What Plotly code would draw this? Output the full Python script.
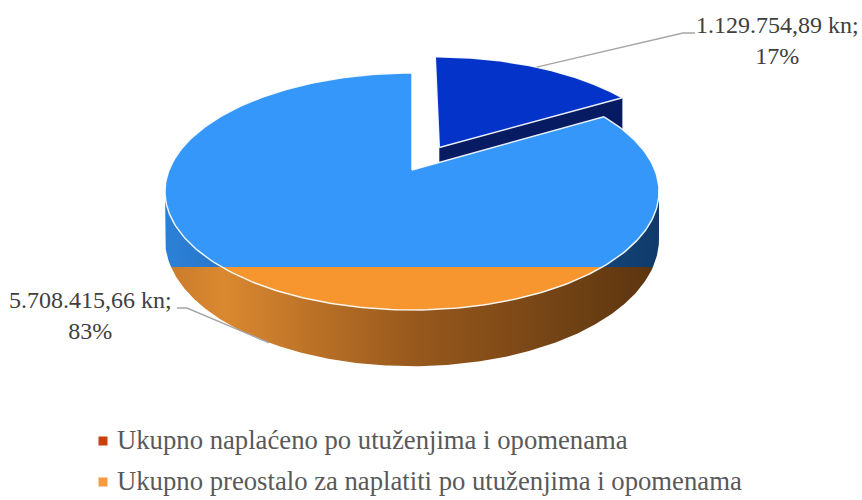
import numpy as np
import plotly.graph_objects as go

# ---------------- data ----------------
categories = ["Ukupno naplaćeno po utuženjima i opomenama",
              "Ukupno preostalo za naplatiti po utuženjima i opomenama"]
values = [1129754.89, 5708415.66]
explode = [0.235, 0.0]

# ---------------- style ----------------
top_colors = ["#0433C9", "#3497F9"]          # upper (series) colour of top face
side_scales = [[[0, "#071B62"], [1, "#071B62"]],
               [[0, "#2B80D6"], [0.35, "#2266B3"], [1, "#0F3B6A"]]]
low_top_colors = ["#C8400C", "#F7962F"]      # colour below the split line
low_side_scales = [[[0, "#B0380A"], [1, "#4A1804"]],
                   [[0, "#C97A2C"], [0.12, "#DA8830"], [0.5, "#98591D"], [1, "#5A3410"]]]
legend_colors = ["#C8400C", "#F79A40"]
W, H = 862, 500
CX, CY = 412.0, 170.0
A, B, K = 242.9, 114.6, 0.1814
DEPTH = 46.0
SPLIT_Y = 267.0
LABEL_FONT = dict(family="Liberation Serif, Times New Roman, serif", size=24, color="#404040")
LEG_FONT = dict(family="Liberation Serif, Times New Roman, serif", size=26.7, color="#595959")


def proj(u, v, z=0.0):
    den = 1.0 + K * v
    return CX + A * u / den, CY - B * v / den + z * DEPTH / den


def clip(pts, above):
    out = []
    n = len(pts)
    if n == 0:
        return out
    def inside(p):
        return p[1] <= SPLIT_Y if above else p[1] >= SPLIT_Y
    for i in range(n):
        cur, prev = pts[i], pts[i - 1]
        ci, pi = inside(cur), inside(prev)
        if ci != pi:
            t = (SPLIT_Y - prev[1]) / (cur[1] - prev[1])
            out.append((prev[0] + t * (cur[0] - prev[0]), SPLIT_Y))
        if ci:
            out.append(cur)
    return out


fig = go.Figure()


def add_poly(pts, color=None, scale=None, xr=None):
    if len(pts) < 3:
        return
    xs = [p[0] for p in pts] + [pts[0][0]]
    ys = [p[1] for p in pts] + [pts[0][1]]
    kw = dict(x=xs, y=ys, mode="lines", fill="toself", line=dict(width=0),
              hoverinfo="skip", showlegend=False)
    if scale is not None:
        kw["fillgradient"] = dict(type="horizontal", colorscale=scale,
                                  start=xr[0], stop=xr[1])
        kw["fillcolor"] = scale[0][1]
    else:
        kw["fillcolor"] = color
    fig.add_trace(go.Scatter(**kw))


def add_split(pts, i, kind):
    xs = [p[0] for p in pts]
    xr = (min(xs), max(xs))
    if kind == "top":
        add_poly(clip(pts, True), color=top_colors[i])
        add_poly(clip(pts, False), color=low_top_colors[i])
    else:
        add_poly(clip(pts, True), scale=side_scales[i], xr=xr)
        add_poly(clip(pts, False), scale=low_side_scales[i], xr=xr)


total = sum(values)
fracs = [v / total for v in values]
starts = np.cumsum([0] + fracs[:-1]) * 2 * np.pi
ends = starts + np.array(fracs) * 2 * np.pi
mids = (starts + ends) / 2
tan_r = np.arccos(-K)
tan_l = 2 * np.pi - tan_r

order = sorted(range(len(values)), key=lambda i: -np.cos(mids[i]))
anchor_pts = [None] * len(values)

for i in order:
    a0, a1 = starts[i], ends[i]
    ou, ov = explode[i] * np.sin(mids[i]), explode[i] * np.cos(mids[i])
    th = np.linspace(a0, a1, 300)
    # radial faces
    for a, nrm in ((a1, (np.cos(a1), -np.sin(a1))), (a0, (-np.cos(a0), np.sin(a0)))):
        if nrm[1] < -1e-3:
            eu, ev = ou + np.sin(a), ov + np.cos(a)
            face = [proj(ou, ov), proj(eu, ev), proj(eu, ev, 1), proj(ou, ov, 1)]
            add_split(face, i, "side")
    # outer side
    lo, hi = max(a0, tan_r), min(a1, tan_l)
    if hi > lo:
        ts = np.linspace(lo, hi, 300)
        topa = [proj(ou + np.sin(t), ov + np.cos(t)) for t in ts]
        bota = [proj(ou + np.sin(t), ov + np.cos(t), 1) for t in ts[::-1]]
        add_split(topa + bota, i, "side")
    # top face
    poly = [proj(ou, ov)] + [proj(ou + np.sin(t), ov + np.cos(t)) for t in th]
    add_split(poly, i, "top")
    fig.add_trace(go.Scatter(x=[p[0] for p in poly] + [poly[0][0]],
                             y=[p[1] for p in poly] + [poly[0][1]],
                             mode="lines", line=dict(color="rgba(255,255,255,0.9)", width=1.5),
                             hoverinfo="skip", showlegend=False))
    um, vm = ou + np.sin(mids[i]), ov + np.cos(mids[i])
    anchor_pts[i] = proj(um, vm, 1 if np.cos(mids[i]) < -K else 0)


def fmt(v):
    s = f"{v:,.2f}"
    return s.replace(",", "X").replace(".", ",").replace("X", ".")


label_xy = [(777, 40), (90, 315)]
label_side = [(695, 33), (177, 308)]
label_elbow = [(683, 33), (187, 308)]
for i, v in enumerate(values):
    ax_, ay_ = anchor_pts[i]
    fig.add_trace(go.Scatter(x=[ax_, label_elbow[i][0], label_side[i][0]],
                             y=[ay_, label_elbow[i][1], label_side[i][1]],
                             mode="lines", line=dict(color="#A6A6A6", width=1.5),
                             hoverinfo="skip", showlegend=False))
    fig.add_annotation(x=label_xy[i][0], y=label_xy[i][1], xref="x", yref="y",
                       text=f"{fmt(v)} kn;<br>{round(fracs[i] * 100)}%",
                       showarrow=False, font=LABEL_FONT, align="center",
                       xanchor="center", yanchor="middle")

# legend
leg_y = [440, 481]
fig.add_trace(go.Scatter(x=[103] * len(categories), y=[yy + 1 for yy in leg_y], mode="markers",
                         marker=dict(symbol="square", size=9, color=legend_colors),
                         hoverinfo="skip", showlegend=False))
for i, c in enumerate(categories):
    fig.add_annotation(x=115, y=leg_y[i], xref="x", yref="y", text=c, showarrow=False,
                       font=LEG_FONT, xanchor="left", yanchor="middle")

fig.update_layout(
    width=W, height=H, margin=dict(l=0, r=0, t=0, b=0),
    paper_bgcolor="white", plot_bgcolor="white",
    xaxis=dict(range=[0, W], visible=False, fixedrange=True),
    yaxis=dict(range=[H, 0], visible=False, fixedrange=True),
    showlegend=False,
)
fig.write_html("out.html")
